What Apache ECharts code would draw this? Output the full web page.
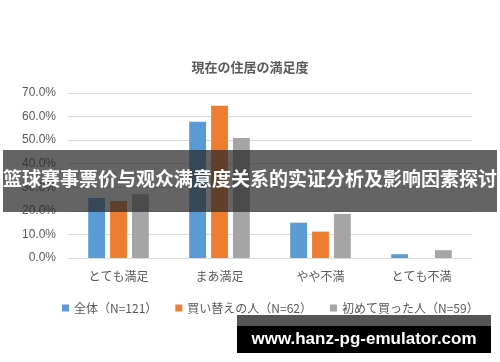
<!DOCTYPE html>
<html><head><meta charset="utf-8">
<script src="https://cdn.jsdelivr.net/npm/echarts@6/dist/echarts.min.js"></script>
<style>html,body{margin:0;padding:0;background:#fff}#c{width:500px;height:362px}</style>
</head><body><div id="c"></div>
<script>
var categories = ['とても満足', 'まあ満足', 'やや不満', 'とても不満'];
var seriesNames = ['全体（N=121）', '買い替えの人（N=62）', '初めて買った人（N=59）'];
var allValues = [25.5, 57.8, 15.0, 1.6];
var replaceValues = [24.2, 64.6, 11.2, 0];
var firstValues = [27.0, 50.9, 18.7, 3.3];
var yTicks = [0, 10, 20, 30, 40, 50, 60, 70];
var colors = ['#5B9BD5', '#ED7D31', '#A5A5A5'];
var jp = '"Noto Sans CJK JP", sans-serif';

var chart = echarts.init(document.getElementById('c'), null, {renderer: 'canvas'});
function mk(name, data, color) {
  return {name: name, type: 'bar', data: data, barGap: '30%', barCategoryGap: '40%',
    itemStyle: {color: color}};
}
chart.setOption({
  animation: false,
  title: {text: '現在の住居の満足度', left: 'center', top: 56,
    textStyle: {fontFamily: jp, fontSize: 13, fontWeight: 'bold', color: '#595959'}},
  grid: {left: 68, right: 28, top: 93, bottom: 104},
  legend: {left: 57, top: 297, itemWidth: 7, itemHeight: 7, itemGap: 18, icon: 'rect',
    textStyle: {fontFamily: jp, fontSize: 12, color: '#595959'}},
  xAxis: {type: 'category', data: categories,
    axisLine: {lineStyle: {color: '#d9d9d9'}}, axisTick: {show: false},
    axisLabel: {fontFamily: jp, fontSize: 12, color: '#595959', margin: 12}},
  yAxis: {type: 'value', min: yTicks[0], max: yTicks[yTicks.length - 1], interval: 10,
    axisLine: {show: false}, axisTick: {show: false},
    splitLine: {lineStyle: {color: '#d9d9d9'}},
    axisLabel: {fontFamily: '"Liberation Sans", sans-serif', fontSize: 12, color: '#595959', margin: 12,
      formatter: function (v) { return v.toFixed(1) + '%'; }}},
  series: [mk(seriesNames[0], allValues, colors[0]), mk(seriesNames[1], replaceValues, colors[1]),
    mk(seriesNames[2], firstValues, colors[2])],
  graphic: [
    {type: 'rect', z: 100, shape: {x: 3, y: 150, width: 494, height: 62}, style: {fill: 'rgba(40,40,40,0.72)'}},
    {type: 'text', z: 101, left: 'center', top: 169, style: {text: '篮球赛事票价与观众满意度关系的实证分析及影响因素探讨',
      fill: '#fff', font: 'bold 19px "Noto Sans CJK SC", sans-serif'}},
    {type: 'rect', z: 100, shape: {x: 237, y: 315, width: 254, height: 11}, style: {fill: '#555'}},
    {type: 'rect', z: 100, shape: {x: 237, y: 326, width: 254, height: 27}, style: {fill: '#000'}},
    {type: 'text', z: 101, x: 364, y: 339, style: {text: 'www.hanz-pg-emulator.com',
      fill: '#fff', align: 'center', verticalAlign: 'middle',
      font: 'bold 17px "Liberation Sans", sans-serif'}}
  ]
});
</script></body></html>
